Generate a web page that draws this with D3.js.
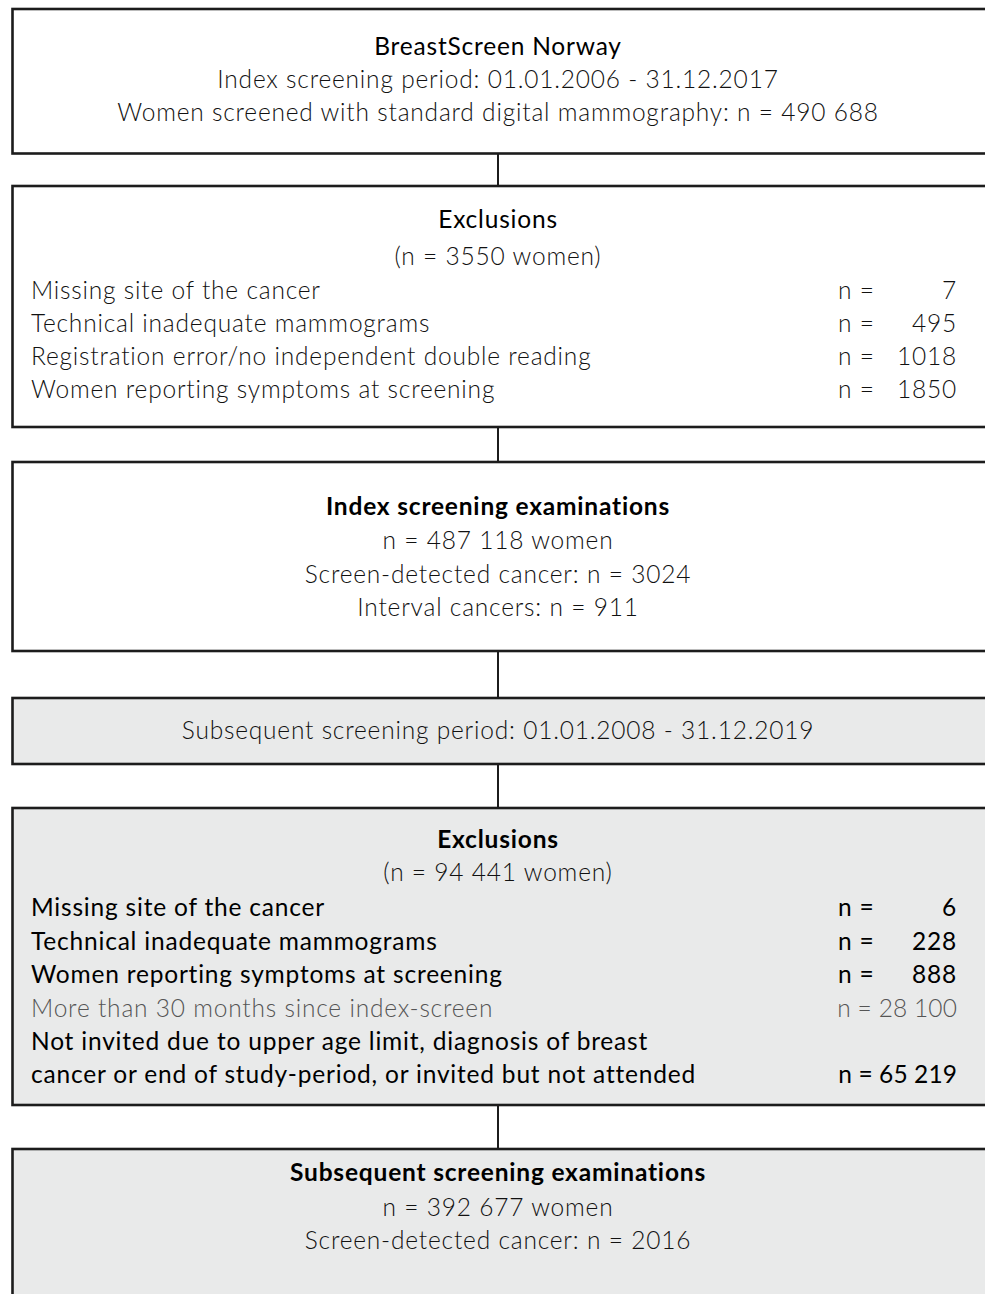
<!DOCTYPE html>
<html>
<head>
<meta charset="utf-8">
<script src="https://cdn.jsdelivr.net/npm/d3@7"></script>
<style>
  html, body { margin: 0; padding: 0; background: #fff; }
  svg { display: block; }
  text { font-family: Lato, "Open Sans", sans-serif; letter-spacing: 0.8px; }
</style>
</head>
<body>
<svg id="chart" width="985" height="1294"></svg>
<script>
// ---------- data ----------
const indexPeriod = "01.01.2006 - 31.12.2017";
const subsequentPeriod = "01.01.2008 - 31.12.2019";
const totalScreened = 490688;

const exclusionsIndexTotal = 3550;
const exclusionsIndexLabels = [
  "Missing site of the cancer",
  "Technical inadequate mammograms",
  "Registration error/no independent double reading",
  "Women reporting symptoms at screening"
];
const exclusionsIndexCounts = [7, 495, 1018, 1850];

const indexWomen = 487118;
const indexScreenDetected = 3024;
const indexInterval = 911;

const exclusionsSubTotal = 94441;
const exclusionsSubLabels = [
  ["Missing site of the cancer"],
  ["Technical inadequate mammograms"],
  ["Women reporting symptoms at screening"],
  ["More than 30 months since index-screen"],
  ["Not invited due to upper age limit, diagnosis of breast",
   "cancer or end of study-period, or invited but not attended"]
];
const exclusionsSubCounts = [6, 228, 888, 28100, 65219];

const subWomen = 392677;
const subScreenDetected = 2016;

// ---------- helpers ----------
function fmt(n) {
  if (n < 10000) return String(n);
  return d3.format(",")(n).replace(/,/g, " ");
}

const svg = d3.select("#chart");
const cx = 498;
const boxLeft = 12.5;
const boxRight = 988;
const stroke = "#1c1c1c";
const grayFill = "#e9eaea";
const fs = 24.5;
const off = fs * 0.34;

// box geometry (layout)
const boxes = [
  { y0: 9,    y1: 153.5, fill: "#fff" },
  { y0: 186,  y1: 427,   fill: "#fff" },
  { y0: 462,  y1: 651,   fill: "#fff" },
  { y0: 698,  y1: 764,   fill: grayFill },
  { y0: 808,  y1: 1105,  fill: grayFill },
  { y0: 1149, y1: 1310,  fill: grayFill }
];

// connectors
const conn = svg.append("g");
for (let i = 0; i < boxes.length - 1; i++) {
  conn.append("line")
    .attr("x1", cx).attr("x2", cx)
    .attr("y1", boxes[i].y1).attr("y2", boxes[i + 1].y0)
    .attr("stroke", stroke).attr("stroke-width", 2);
}

svg.append("g").selectAll("rect").data(boxes).join("rect")
  .attr("x", boxLeft)
  .attr("y", d => d.y0)
  .attr("width", boxRight - boxLeft)
  .attr("height", d => d.y1 - d.y0)
  .attr("fill", d => d.fill)
  .attr("stroke", stroke)
  .attr("stroke-width", 2.6);

const g = svg.append("g");
const bodyStyle = { weight: 300, color: "#111" };
function center(txt, y, opts = {}) {
  g.append("text")
    .attr("x", cx)
    .attr("y", y + off)
    .attr("text-anchor", "middle")
    .attr("font-size", fs)
    .attr("font-weight", opts.weight || bodyStyle.weight)
    .attr("fill", opts.color || bodyStyle.color)
    .text(txt);
}
function row(label, count, y, opts = {}) {
  const color = opts.color || bodyStyle.color;
  const weight = opts.weight || bodyStyle.weight;
  const t = (x, s, anchor) => g.append("text").attr("x", x).attr("y", y + off)
    .attr("text-anchor", anchor || "start")
    .attr("font-size", fs).attr("font-weight", weight).attr("fill", color)
    .text(s);
  if (label !== null) t(31, label);
  if (count !== null) {
    if (count < 10000) {
      t(838, "n =");
      t(957, fmt(count), "end");
    } else {
      t(957, "n = " + fmt(count), "end").style("letter-spacing", "0.1px");
    }
  }
}

// Box 1
center("BreastScreen Norway", 47, { weight: 400, color: "#000" });
center("Index screening period: " + indexPeriod, 80);
center("Women screened with standard digital mammography: n = " + fmt(totalScreened), 113);

// Box 2
center("Exclusions", 220, { weight: 400, color: "#000" });
center("(n = " + fmt(exclusionsIndexTotal) + " women)", 257);
const y2 = d3.scalePoint().domain(d3.range(exclusionsIndexLabels.length)).range([291, 390]);
exclusionsIndexLabels.forEach((lab, i) => row(lab, exclusionsIndexCounts[i], y2(i)));

// Box 3
center("Index screening examinations", 507, { weight: 700, color: "#000" });
center("n = " + fmt(indexWomen) + " women", 541);
center("Screen-detected cancer: n = " + fmt(indexScreenDetected), 575);
center("Interval cancers: n = " + fmt(indexInterval), 608);

// Box 4
center("Subsequent screening period: " + subsequentPeriod, 731);

// Box 5
center("Exclusions", 840, { weight: 700, color: "#000" });
center("(n = " + fmt(exclusionsSubTotal) + " women)", 873);
const lines5 = [];
exclusionsSubLabels.forEach((labs, i) => {
  labs.forEach((l, j) => lines5.push({ label: l, count: j === labs.length - 1 ? exclusionsSubCounts[i] : null, idx: i }));
});
const y5 = d3.scalePoint().domain(d3.range(lines5.length)).range([908, 1075]);
lines5.forEach((d, k) => {
  const light = d.idx === 3;
  row(d.label, d.count, y5(k), light ? { color: "#555", weight: 300 } : { color: "#000", weight: 400 });
});

// Box 6
center("Subsequent screening examinations", 1173, { weight: 700, color: "#000" });
center("n = " + fmt(subWomen) + " women", 1208);
center("Screen-detected cancer: n = " + fmt(subScreenDetected), 1241);
</script>
</body>
</html>
